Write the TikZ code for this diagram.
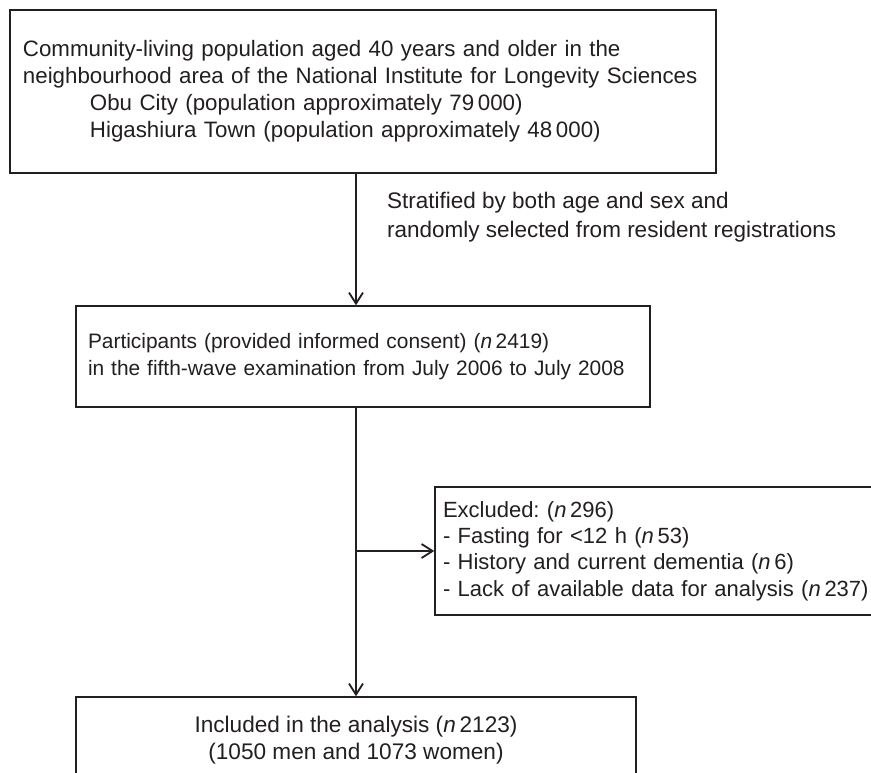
\documentclass[tikz,border=0pt]{standalone}
\usepackage{fontspec}
\setmainfont{Liberation Sans}
\usetikzlibrary{arrows.meta}
\definecolor{ink}{HTML}{231F20}
\frenchspacing
\begin{document}
\begin{tikzpicture}[x=1pt,y=-1pt,
  box/.style={draw=ink, line width=1.5pt, rectangle, text=ink, font=\frenchspacing\fontsize{22.3}{27}\selectfont},
  lbl/.style={text=ink, inner sep=0pt, font=\frenchspacing\fontsize{22.5}{29}\selectfont},
  arr/.style={draw=ink, line width=1.8pt, -{Straight Barb[length=11pt,width=14pt,line width=1.8pt]}},
  conn/.style={draw=ink, line width=1.8pt}]
\clip (0,0) rectangle (871,772);
\fill[white] (0,0) rectangle (871,772);
\coordinate (spine) at (356,0);
\node[box, minimum width=706pt, minimum height=163pt, text width=680pt, inner xsep=13pt, align=left] (b1) at (363,91.5)
 {\mbox{Community-living population aged 40 years and older in the}\\
  \mbox{neighbourhood area of the National Institute for Longevity Sciences}\\
  \hspace*{67pt}\mbox{Obu City (population approximately 79\,000)}\\
  \hspace*{67pt}\mbox{Higashiura Town (population approximately 48\,000)}};
\node[lbl, anchor=west, align=left] (strat) at (387,217.5)
 {Stratified by both age and sex and\\randomly selected from resident registrations};
\node[box, minimum width=574pt, minimum height=101pt, text width=560pt, inner xsep=7pt, align=left, font=\frenchspacing\fontsize{20.9}{27}\selectfont] (b2) at (363,356.5)
 {\hspace*{5pt}\mbox{Participants (provided informed consent) (\textit{n}\,2419)}\\
  \hspace*{5pt}\mbox{in the fifth-wave examination from July 2006 to July 2008}};
\node[box, minimum width=450pt, minimum height=128pt, text width=434pt, inner xsep=8pt, align=left, font=\frenchspacing\fontsize{22}{26.3}\selectfont] (ex) at (660,551)
 {\mbox{Excluded: (\textit{n}\,296)}\\
  \mbox{- Fasting for <12 h (\textit{n}\,53)}\\
  \mbox{- History and current dementia (\textit{n}\,6)}\\
  \mbox{- Lack of available data for analysis (\textit{n}\,237)}};
\node[box, minimum width=560pt, minimum height=87pt, align=center, font=\frenchspacing\fontsize{22.6}{27}\selectfont] (b4) at (356,740.5)
 {Included in the analysis (\textit{n}\,2123)\\(1050 men and 1073 women)};
\coordinate (branch) at (ex.west -| spine);
\draw[arr] (b1.south -| spine) -- (b2.north -| spine);
\draw[arr] (b2.south -| spine) -- (b4.north -| spine);
\draw[arr] (branch) -- (ex.west);
\end{tikzpicture}
\end{document}
